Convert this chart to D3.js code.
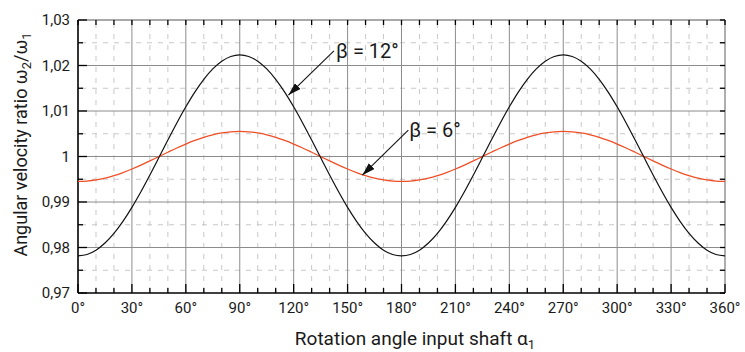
<!DOCTYPE html>
<html>
<head>
<meta charset="utf-8">
<script src="https://cdn.jsdelivr.net/npm/d3@7"></script>
<style>
  body { margin: 0; background: #fff; }
  svg { display: block; font-family: Roboto, "Open Sans", sans-serif; }
</style>
</head>
<body>
<svg id="chart" width="745" height="352"></svg>
<script>
// rotation angle of the input shaft, degrees
var angles = [0,5,10,15,20,25,30,35,40,45,50,55,60,65,70,75,80,85,90,
  95,100,105,110,115,120,125,130,135,140,145,150,155,160,165,170,175,180,
  185,190,195,200,205,210,215,220,225,230,235,240,245,250,255,260,265,270,
  275,280,285,290,295,300,305,310,315,320,325,330,335,340,345,350,355,360];

// angular velocity ratio w2/w1, beta = 12 deg
var ratio12 = [0.97815,0.97847,0.97942,0.98099,0.98312,0.98576,0.98883,0.99226,0.99594,0.99976,1.00361,1.00737,1.01092,1.01416,1.01697,1.01926,1.02095,1.02199,1.02234,
  1.02199,1.02095,1.01926,1.01697,1.01416,1.01092,1.00737,1.00361,0.99976,0.99594,0.99226,0.98883,0.98576,0.98312,0.98099,0.97942,0.97847,0.97815,
  0.97847,0.97942,0.98099,0.98312,0.98576,0.98883,0.99226,0.99594,0.99976,1.00361,1.00737,1.01092,1.01416,1.01697,1.01926,1.02095,1.02199,1.02234,
  1.02199,1.02095,1.01926,1.01697,1.01416,1.01092,1.00737,1.00361,0.99976,0.99594,0.99226,0.98883,0.98576,0.98312,0.98099,0.97942,0.97847,0.97815];

// angular velocity ratio w2/w1, beta = 6 deg
var ratio6 = [0.99452,0.99461,0.99485,0.99525,0.99580,0.99647,0.99725,0.99811,0.99903,0.99999,1.00094,1.00187,1.00274,1.00353,1.00421,1.00477,1.00517,1.00542,1.00551,
  1.00542,1.00517,1.00477,1.00421,1.00353,1.00274,1.00187,1.00094,0.99999,0.99903,0.99811,0.99725,0.99647,0.99580,0.99525,0.99485,0.99461,0.99452,
  0.99461,0.99485,0.99525,0.99580,0.99647,0.99725,0.99811,0.99903,0.99999,1.00094,1.00187,1.00274,1.00353,1.00421,1.00477,1.00517,1.00542,1.00551,
  1.00542,1.00517,1.00477,1.00421,1.00353,1.00274,1.00187,1.00094,0.99999,0.99903,0.99811,0.99725,0.99647,0.99580,0.99525,0.99485,0.99461,0.99452];

var xTicks = [0,30,60,90,120,150,180,210,240,270,300,330,360];
var xTickLabels = ["0°","30°","60°","90°","120°","150°","180°","210°","240°","270°","300°","330°","360°"];
var xMinor = [0,10,20,30,40,50,60,70,80,90,100,110,120,130,140,150,160,170,180,
  190,200,210,220,230,240,250,260,270,280,290,300,310,320,330,340,350,360];
var yTicks = [0.97,0.98,0.99,1.00,1.01,1.02,1.03];
var yTickLabels = ["0,97","0,98","0,99","1","1,01","1,02","1,03"];
var yMinor = [0.97,0.975,0.98,0.985,0.99,0.995,1.00,1.005,1.01,1.015,1.02,1.025,1.03];

// labels: [text, angle, ratio] and arrows: [from angle, from ratio, to angle, to ratio]
var labels = [["β = 12°", 143.6, 1.0217], ["β = 6°", 184.3, 1.0043]];
var arrows = [[142.4, 1.0232, 117.1, 1.0135], [183.8, 1.0058, 158.2, 0.9959]];

var margin = { top: 20, right: 20, bottom: 59, left: 78 };
var svg = d3.select("#chart");
var width = +svg.attr("width");
var height = +svg.attr("height");
var innerWidth = width - margin.left - margin.right;
var innerHeight = height - margin.top - margin.bottom;

var x = d3.scaleLinear().domain([0, 360]).range([0, innerWidth]);
var y = d3.scaleLinear().domain([0.97, 1.03]).range([innerHeight, 0]);

var g = svg.append("g").attr("transform", "translate(" + margin.left + "," + margin.top + ")");

// minor dashed grid
g.selectAll(".vminor").data(xMinor.filter(d => d % 30 != 0)).enter()
  .append("line")
  .attr("x1", d => x(d)).attr("x2", d => x(d))
  .attr("y1", 0).attr("y2", innerHeight)
  .style("stroke", "#c8c8c8").style("stroke-width", "1px")
  .style("stroke-dasharray", "5,6").style("stroke-dashoffset", "-3");

g.selectAll(".hminor").data(yMinor.filter((d, i) => i % 2 == 1)).enter()
  .append("line")
  .attr("x1", 0).attr("x2", innerWidth)
  .attr("y1", d => y(d)).attr("y2", d => y(d))
  .style("stroke", "#c8c8c8").style("stroke-width", "1px")
  .style("stroke-dasharray", "5,6").style("stroke-dashoffset", "-3");

// major solid grid
g.selectAll(".vmajor").data(xTicks.slice(1, -1)).enter()
  .append("line")
  .attr("x1", d => x(d)).attr("x2", d => x(d))
  .attr("y1", 0).attr("y2", innerHeight)
  .style("stroke", "#8c8c8c").style("stroke-width", "1px");

g.selectAll(".hmajor").data(yTicks.slice(1, -1)).enter()
  .append("line")
  .attr("x1", 0).attr("x2", innerWidth)
  .attr("y1", d => y(d)).attr("y2", d => y(d))
  .style("stroke", "#8c8c8c").style("stroke-width", "1px");

// frame top and right
g.append("line").attr("x1", 0).attr("x2", innerWidth).attr("y1", 0).attr("y2", 0)
  .style("stroke", "#555").style("stroke-width", "1.2px");
g.append("line").attr("x1", innerWidth).attr("x2", innerWidth).attr("y1", 0).attr("y2", innerHeight)
  .style("stroke", "#777").style("stroke-width", "1.2px");

// ticks, all pointing inward
var tickStyle = sel => sel.style("stroke", "#000").style("stroke-width", "1.3px");
g.selectAll(".tb").data(xMinor).enter().append("line")
  .attr("x1", d => x(d)).attr("x2", d => x(d))
  .attr("y1", innerHeight).attr("y2", d => innerHeight - (d % 30 == 0 ? 9 : 5)).call(tickStyle);
g.selectAll(".tt").data(xMinor).enter().append("line")
  .attr("x1", d => x(d)).attr("x2", d => x(d))
  .attr("y1", 0).attr("y2", 5).call(tickStyle);
g.selectAll(".tl").data(yMinor).enter().append("line")
  .attr("x1", 0).attr("x2", (d, i) => i % 2 == 0 ? 9 : 5)
  .attr("y1", d => y(d)).attr("y2", d => y(d)).call(tickStyle);
g.selectAll(".tr").data(yMinor).enter().append("line")
  .attr("x1", innerWidth).attr("x2", innerWidth - 5)
  .attr("y1", d => y(d)).attr("y2", d => y(d)).call(tickStyle);

// tick labels
g.selectAll(".xlab").data(xTicks).enter().append("text")
  .attr("x", d => x(d)).attr("y", innerHeight + 20)
  .attr("text-anchor", "middle")
  .style("font-size", "15px").style("fill", "#1a1a1a")
  .text((d, i) => xTickLabels[i]);
g.selectAll(".ylab").data(yTicks).enter().append("text")
  .attr("x", -8).attr("y", d => y(d) + 5)
  .attr("text-anchor", "end")
  .style("font-size", "15px").style("fill", "#1a1a1a")
  .text((d, i) => yTickLabels[i]);

// main axis lines
g.append("line").attr("x1", 0).attr("x2", innerWidth).attr("y1", innerHeight).attr("y2", innerHeight)
  .style("stroke", "#000").style("stroke-width", "1.6px");
g.append("line").attr("x1", 0).attr("x2", 0).attr("y1", 0).attr("y2", innerHeight)
  .style("stroke", "#000").style("stroke-width", "1.6px");

// curves
var line = d3.line()
  .x((d, i) => x(angles[i]))
  .y(d => y(d))
  .curve(d3.curveCatmullRom);

g.append("path").datum(ratio6)
  .attr("d", line)
  .style("fill", "none").style("stroke", "#f04f26").style("stroke-width", "1.3px");

g.append("path").datum(ratio12)
  .attr("d", line)
  .style("fill", "none").style("stroke", "#111").style("stroke-width", "1.2px");

// annotations
svg.append("defs").append("marker")
  .attr("id", "arrowhead")
  .attr("viewBox", "0 0 13 8")
  .attr("refX", 13).attr("refY", 4)
  .attr("markerWidth", 13).attr("markerHeight", 8)
  .attr("markerUnits", "userSpaceOnUse")
  .attr("orient", "auto")
  .append("path").attr("d", "M0,0 L13,4 L0,8 Z").style("fill", "#111");

g.selectAll(".arrow").data(arrows).enter()
  .append("line")
  .attr("x1", d => x(d[0])).attr("y1", d => y(d[1]))
  .attr("x2", d => x(d[2])).attr("y2", d => y(d[3]))
  .attr("marker-end", "url(#arrowhead)")
  .style("stroke", "#111").style("stroke-width", "1.1px");

g.selectAll(".label").data(labels).enter()
  .append("text")
  .attr("x", d => x(d[1])).attr("y", d => y(d[2]))
  .style("font-size", "20px").style("fill", "#1a1a1a")
  .text(d => d[0]);

// axis titles
var xTitle = svg.append("text")
  .attr("text-anchor", "middle")
  .attr("x", 415).attr("y", height - 7)
  .style("font-size", "19px").style("fill", "#1a1a1a");
xTitle.append("tspan").text("Rotation angle input shaft α");
xTitle.append("tspan").attr("dy", "4").style("font-size", "13px").text("1");

var yTitle = svg.append("text")
  .attr("text-anchor", "middle")
  .attr("transform", "translate(27," + (margin.top + innerHeight / 2 - 12) + ") rotate(-90)")
  .style("font-size", "18px").style("fill", "#1a1a1a");
yTitle.append("tspan").text("Angular velocity ratio ω");
yTitle.append("tspan").attr("dy", "4").style("font-size", "13px").text("2");
yTitle.append("tspan").attr("dy", "-4").text("/ω");
yTitle.append("tspan").attr("dy", "4").style("font-size", "13px").text("1");
</script>
</body>
</html>
